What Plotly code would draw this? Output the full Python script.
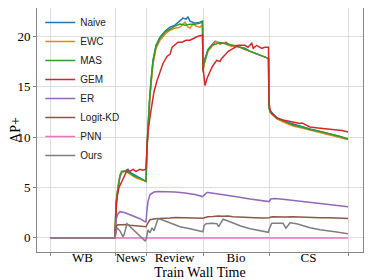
import plotly.graph_objects as go

STAGES = ["WB", "News", "Review", "Bio", "CS"]
BOUNDS = [0, 65, 96, 153, 219, 298]

NAIVE = [(0,0),(65,0),(66,3.2),(68,5.0),(70,6.1),(72,6.5),(76,6.7),(78,6.8),(80,6.5),(85,6.2),(90,5.9),(95,5.6),
         (96,5.6),(97,9.2),(98,11.7),(99.5,13.6),(101,15.6),(103,17.6),(106,19.1),(110,19.9),(115,20.5),(120,20.9),(125,21.1),(130,21.5),(133,21.8),(136,21.7),(138,21.9),(140,21.5),(145,21.3),(150,21.4),(152.5,21.5),
         (153,16.5),(154,17.5),(158,18.7),(162,19.2),(165,19.5),(168,19.4),(173,19.3),(176,19.4),(180,19.1),(185,19.0),(190,18.9),(195,18.8),(200,18.5),(205,18.3),(210,18.1),(215,17.9),(218.5,17.8),
         (219,13.0),(220,12.6),(222,12.4),(227,11.9),(233,11.6),(243,11.3),(252,11.0),(260,10.8),(268,10.6),(277,10.4),(288,10.1),(298,9.8)]
EWC = [(0,0),(65,0),(66,3.3),(68,5.1),(70,6.2),(72,6.5),(76,6.6),(80,6.3),(85,6.0),(90,5.8),(95,5.6),
       (96,5.6),(97,8.8),(98,11.2),(99.5,13.2),(101,15.2),(103,17.2),(106,18.8),(110,19.6),(115,20.2),(120,20.6),(125,20.8),(130,20.9),(133,21.2),(135,21.4),(138,20.9),(140,20.8),(143,21.2),(146,21.0),(150,20.9),(152.5,21.1),
       (153,16.4),(154,17.2),(158,18.5),(162,19.0),(166,19.5),(170,19.2),(174,19.4),(178,19.1),(182,19.0),(187,19.1),(192,18.8),(197,18.6),(202,18.4),(207,18.2),(212,18.0),(218.5,17.8),
       (219,13.0),(220,12.5),(222,12.3),(227,11.8),(233,11.5),(243,11.1),(252,10.9),(260,10.7),(268,10.5),(277,10.3),(288,10.0),(298,9.75)]
MAS = [(0,0),(65,0),(66,3.5),(68,5.0),(70,6.2),(71.5,6.6),(76,6.6),(80,6.4),(85,6.1),(90,5.9),(95,5.6),
       (96,5.6),(97,9.0),(98,11.5),(99.5,13.5),(101,15.5),(103,17.5),(106,19.0),(110,19.8),(115,20.4),(120,20.7),(125,21.0),(130,21.2),(135,21.1),(140,21.2),(145,21.2),(150,21.3),(152.5,21.4),
       (153,16.6),(154,17.3),(158,18.6),(162,19.1),(168,19.3),(173,19.3),(178,19.2),(183,19.1),(188,19.0),(193,18.8),(198,18.6),(203,18.4),(208,18.2),(213,18.0),(218.5,17.8),
       (219,13.0),(220,12.5),(222,12.3),(227,11.85),(233,11.6),(243,11.2),(252,11.0),(260,10.76),(268,10.6),(277,10.4),(288,10.1),(298,9.8)]
GEM = [(0,0),(65,0),(66,2.5),(67,4.0),(69,5.0),(72,5.7),(75,6.3),(77,6.7),(80,6.6),(83,6.8),(86,6.6),(90,6.8),(93,6.7),(95,6.8),
       (96,6.8),(97,9.0),(98,10.5),(100,12.0),(102,13.5),(104,14.5),(107,15.6),(110,16.5),(113,17.3),(117,18.0),(120,18.2),(122,18.9),(125,19.2),(128,19.4),(132,19.4),(136,19.6),(140,19.6),(144,19.8),(148,20.0),(152.5,20.1),
       (153,17.0),(155,15.1),(157,15.8),(160,16.5),(163,17.1),(166.7,17.6),(170,17.5),(171.7,17.8),(175,18.1),(178.3,18.5),(183.3,18.8),(188.3,19.1),(195,19.1),(198,18.9),(201.7,19.3),(203.3,18.8),(206.7,19.1),(211.7,18.8),(215,18.9),(218.5,18.9),
       (219,13.5),(220,12.7),(222,12.3),(227,11.9),(233,11.7),(243,11.5),(250,11.35),(252,11.4),(255,11.25),(260,11.0),(268,10.9),(277,10.8),(285,10.7),(292,10.65),(298,10.5)]
ER = [(0,0),(65,0),(66,1.8),(68,2.4),(70,2.6),(75,2.5),(80,2.3),(85,2.1),(90,1.9),(95,1.6),
      (96,1.6),(97,2.8),(98,3.6),(100,4.3),(104,4.55),(108,4.6),(115,4.6),(125,4.55),(135,4.45),(145,4.3),(152.5,4.1),
      (153,4.15),(155,4.4),(157,4.5),(158,4.5),(170,4.35),(185,4.1),(200,3.85),(218.5,3.55),
      (219,3.6),(221,3.85),(225,3.9),(235,3.8),(250,3.6),(270,3.4),(298,3.1)]
LOGIT_KD = [(0,0),(65,0),(66.5,1.2),(68,1.3),(72,1.3),(76,1.32),(80,1.25),(85,1.2),(90,1.1),(95,1.05),
            (96,1.1),(98,1.5),(100,1.8),(105,1.9),(110,1.95),(115,2.0),(120,1.98),(125,2.02),(130,2.0),(135,1.97),(140,2.0),(145,1.95),(152.5,1.92),
            (153,1.95),(156,2.05),(158,2.1),(163,2.12),(168,2.18),(173,2.15),(178,2.17),(183,2.1),(190,2.05),(198,2.03),(205,2.0),(212,1.98),(218.5,1.95),
            (219,2.0),(222,2.1),(227,2.12),(235,2.08),(242,2.1),(250,2.05),(260,2.02),(270,2.0),(280,2.0),(290,1.95),(298,1.92)]
PNN = [(0,0),(65,0),(96,0),(153,0),(219,0),(298,0)]
OURS = [(0,0),(65,0),(67,1.0),(70,0.7),(73,0.1),(74,0.3),(77,1.4),(80,1.1),(85,0.6),(90,0.2),(95,-0.3),
        (96,-0.2),(98,0.8),(100,0.5),(102,1.0),(104,0.7),(108,1.9),(112,1.8),(120,1.5),(130,1.1),(140,0.9),(145,0.8),(152.5,0.6),
        (153,0.6),(154,1.2),(156,1.4),(162,1.45),(167,1.4),(168.5,1.1),(171,1.6),(173,1.85),(180,1.6),(190,1.2),(200,0.9),(210,0.7),(218.5,0.55),
        (219,0.8),(221.7,1.45),(233,1.45),(236,0.96),(240,1.5),(246.7,1.4),(260,1.0),(270,0.8),(285,0.6),(298,0.4)]

SERIES = [("Naive", NAIVE, "#1f77b4"), ("EWC", EWC, "#ff7f0e"), ("MAS", MAS, "#2ca02c"),
          ("GEM", GEM, "#d62728"), ("ER", ER, "#9467bd"), ("Logit-KD", LOGIT_KD, "#8c564b"),
          ("PNN", PNN, "#e377c2"), ("Ours", OURS, "#7f7f7f")]

fig = go.Figure()
for name, pts, color in SERIES:
    xs = [p[0] for p in pts]
    ys = [p[1] for p in pts]
    fig.add_trace(go.Scatter(x=xs, y=ys, mode="lines", name=name,
                             line=dict(color=color, width=1.5)))

mids = [(BOUNDS[i] + BOUNDS[i + 1]) / 2 for i in range(len(STAGES))]
serif = "Liberation Serif"

# page body adds an 8px offset; figure sized so the plot area lands where the reference has it
fig.update_layout(
    width=366, height=272,
    margin=dict(l=29, r=11, t=0, b=28, autoexpand=False),
    plot_bgcolor="white", paper_bgcolor="white",
    showlegend=True,
    legend=dict(x=0.01, y=1.0, xanchor="left", yanchor="top",
                bgcolor="rgba(0,0,0,0)", font=dict(family="Liberation Sans", size=10, color="#222"),
                tracegroupgap=0),
    xaxis=dict(range=[-13, 313], tickmode="array", tickvals=mids, ticktext=STAGES,
               showgrid=False, zeroline=False, ticks="", ticklen=0, ticklabelstandoff=-7,
               automargin=False,
               tickfont=dict(family=serif, size=13, color="black"),
               showline=True, linecolor="#888", linewidth=1, mirror=True,
               minor=dict(tickmode="array", tickvals=BOUNDS, showgrid=True, gridcolor="#dddddd",
                          gridwidth=1, ticks="outside", ticklen=3, tickcolor="#888"),
               title=dict(text="Train Wall Time", font=dict(family=serif, size=14, color="black"), standoff=0)),
    yaxis=dict(range=[-1.4, 22.8], tickmode="array", tickvals=[0, 5, 10, 15, 20],
               showgrid=True, gridcolor="#dddddd", zeroline=False, ticks="outside", ticklen=3,
               automargin=False,
               tickcolor="#888", tickfont=dict(family=serif, size=13, color="black"),
               showline=True, linecolor="#888", linewidth=1, mirror=True,
               title=dict(text="AP+", font=dict(family=serif, size=14, color="black"), standoff=4)),
)

fig.write_html("out.html")
